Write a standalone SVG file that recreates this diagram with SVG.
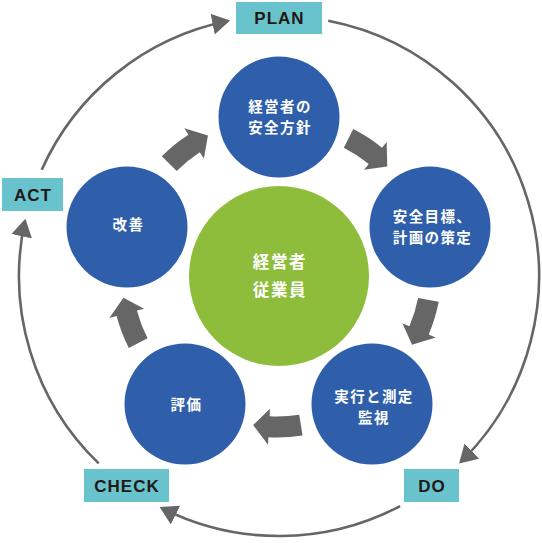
<svg xmlns="http://www.w3.org/2000/svg" width="542" height="543" viewBox="0 0 542 543">
<style>
.ring{fill:none;stroke:#666;stroke-width:2.6}
.box{fill:#68c3cc}
.boxt{font-family:"Liberation Sans",Arial,sans-serif;font-weight:bold;font-size:17px;fill:#231815;text-anchor:middle;letter-spacing:1px}
.blue{fill:#2f5fab}
.green{fill:#8dbd3a}
.ct{font-family:"Noto Sans CJK JP","Noto Sans",sans-serif;font-weight:bold;font-size:14.5px;fill:#fff;text-anchor:middle;letter-spacing:1.4px}
.gt{font-family:"Noto Sans CJK JP","Noto Sans",sans-serif;font-weight:bold;font-size:16.5px;fill:#fff;text-anchor:middle;letter-spacing:1.6px}
.blk{fill:#666}
</style>
<defs>
<marker id="ah" markerUnits="userSpaceOnUse" markerWidth="18" markerHeight="21" viewBox="0 0 17 20" refX="14.7" refY="10" orient="auto">
<path d="M0,0 L17,10 L0,20 Z" fill="#666"/>
</marker>
<path id="barrow" d="M-25.57,-8.47 A161.5,161.5 0 0 1 8.56,-10.27 L8.95,-17.76 L23.9,1.9 L7.05,18.19 L7.44,10.7 A140.5,140.5 0 0 0 -22.24,12.27 Z"/>
</defs>
<g id="connectors">
<path class="ring" d="M328.2,20.7 A260,260 0 0 1 460.8,461.9" marker-end="url(#ah)"/>
<path class="ring" d="M400.1,506.1 A260,260 0 0 1 161.8,508.1" marker-end="url(#ah)"/>
<path class="ring" d="M98.7,463.4 A260,260 0 0 1 24.9,221.1" marker-end="url(#ah)"/>
<path class="ring" d="M41.7,169.8 A260,260 0 0 1 227.8,21.1" marker-end="url(#ah)"/>
<use href="#barrow" class="blk" transform="translate(187.5,148) rotate(-36)"/>
<use href="#barrow" class="blk" transform="translate(369,151) rotate(36)"/>
<use href="#barrow" class="blk" transform="translate(422,323) rotate(110)"/>
<use href="#barrow" class="blk" transform="translate(277,427) rotate(180)"/>
<use href="#barrow" class="blk" transform="translate(129,321) rotate(252)"/>
</g>
<g id="plan"><rect class="box" x="236" y="2" width="86" height="32"/><text class="boxt" x="279.5" y="24.2">PLAN</text></g>
<g id="do"><rect class="box" x="404" y="469" width="55" height="33"/><text class="boxt" x="432" y="491.7">DO</text></g>
<g id="check"><rect class="box" x="84" y="469" width="85" height="33"/><text class="boxt" x="127" y="491.7">CHECK</text></g>
<g id="act"><rect class="box" x="2" y="178" width="61" height="33"/><text class="boxt" x="33" y="200.7">ACT</text></g>
<g id="center"><circle class="green" cx="279" cy="276" r="90"/>
<text class="gt" x="280" y="268">経営者</text><text class="gt" x="280" y="296">従業員</text></g>
<g id="policy"><circle class="blue" cx="279" cy="117" r="60.5"/>
<text class="ct" x="280" y="112.3">経営者の</text><text class="ct" x="280" y="132.5">安全方針</text></g>
<g id="plan-node"><circle class="blue" cx="430" cy="227" r="60.5"/>
<text class="ct" x="432.5" y="221.5">安全目標、</text><text class="ct" x="432.5" y="242.7">計画の策定</text></g>
<g id="do-node"><circle class="blue" cx="372" cy="404" r="60.5"/>
<text class="ct" x="374" y="402.3">実行と測定</text><text class="ct" x="374" y="423.3">監視</text></g>
<g id="check-node"><circle class="blue" cx="185" cy="404" r="60.5"/>
<text class="ct" x="186.5" y="410.3">評価</text></g>
<g id="act-node"><circle class="blue" cx="127" cy="227" r="60.5"/>
<text class="ct" x="128.5" y="230.3">改善</text></g>
</svg>
